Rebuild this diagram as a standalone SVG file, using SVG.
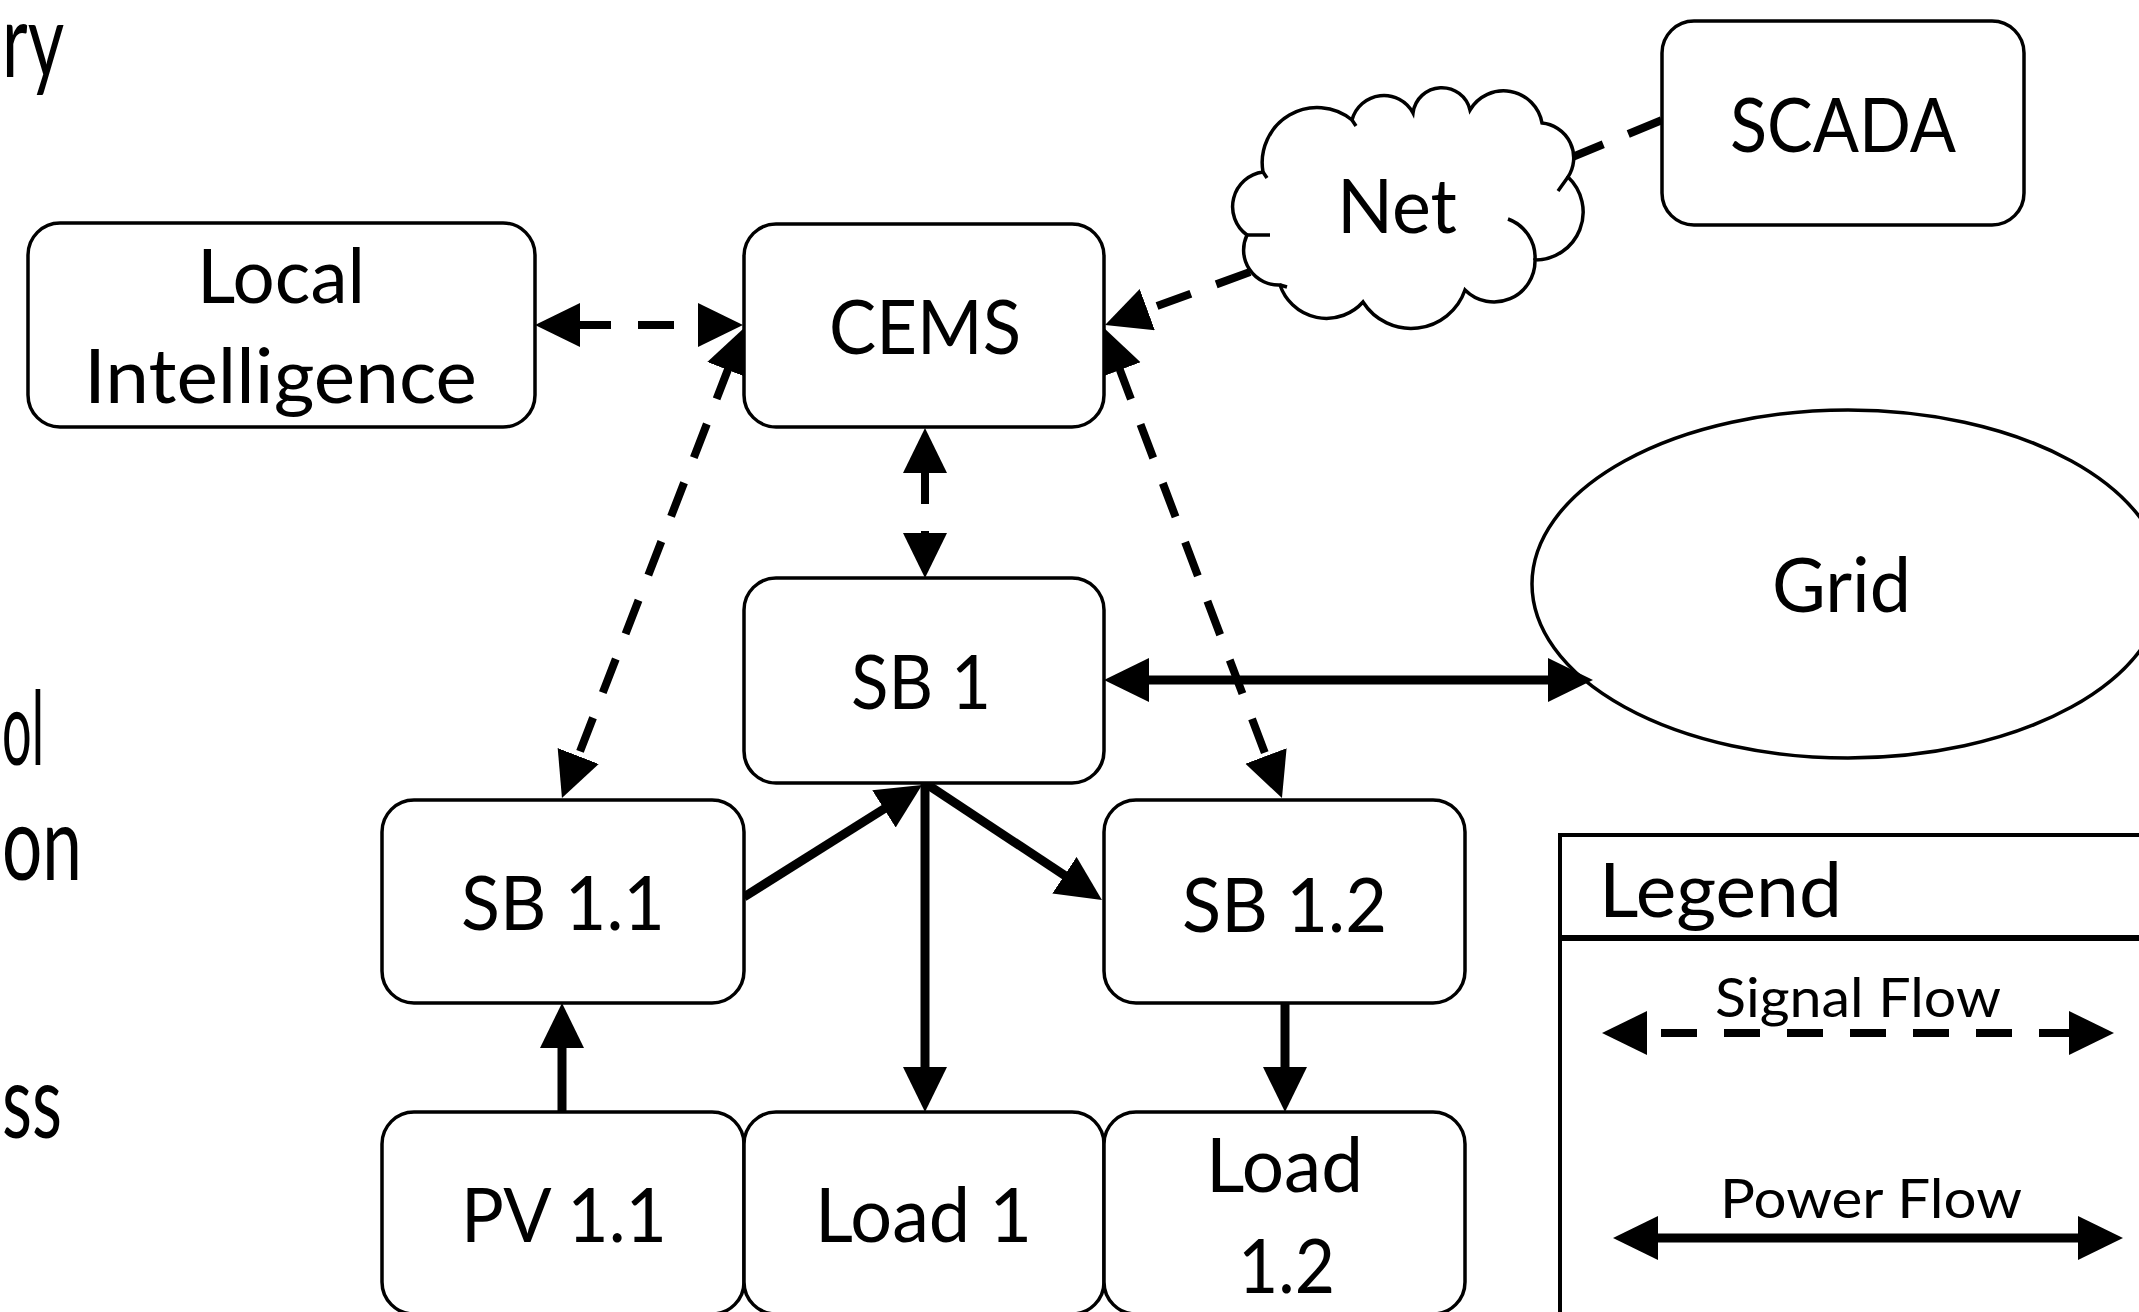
<svg xmlns="http://www.w3.org/2000/svg" width="2139" height="1312" viewBox="0 0 2139 1312">
<style>
.box{fill:#fff;stroke:#000;stroke-width:3.5}
.t{font-family:Lato,"Open Sans","Liberation Sans",sans-serif;font-size:76px;fill:#000}
.s{font-family:Lato,"Open Sans","Liberation Sans",sans-serif;font-size:54px;fill:#000}
.side{font-family:Lato,"Open Sans","Liberation Sans",sans-serif;font-size:102px;fill:#000}
.sig{fill:none;stroke:#000;stroke-width:8;stroke-dasharray:36 27}
.pow{fill:none;stroke:#000;stroke-width:9}
.two{marker-start:url(#ah);marker-end:url(#ah)}
.one{marker-end:url(#ah)}
</style>
<defs>
<marker id="ah" markerUnits="userSpaceOnUse" viewBox="0 0 46 46" markerWidth="46" markerHeight="46" refX="5" refY="22" orient="auto-start-reverse">
<path d="M0,0 L45,22 L0,44 z" fill="#000"/>
</marker>
</defs>
<rect width="2139" height="1312" fill="#fff"/>

<g id="side-text">
<text class="side" x="2" y="77" textLength="62" lengthAdjust="spacingAndGlyphs">ry</text>
<text class="side" x="2" y="765" textLength="42" lengthAdjust="spacingAndGlyphs">ol</text>
<text class="side" x="2" y="880" textLength="80" lengthAdjust="spacingAndGlyphs">on</text>
<text class="side" x="2" y="1138" textLength="60" lengthAdjust="spacingAndGlyphs">ss</text>
</g>

<g id="grid">
<ellipse cx="1848" cy="584" rx="316" ry="174" fill="#fff" stroke="#000" stroke-width="3.5"/>
<text class="t" x="1772" y="612" textLength="139" lengthAdjust="spacingAndGlyphs">Grid</text>
</g>

<g id="legend">
<rect x="1560" y="835" width="700" height="600" fill="#fff" stroke="#000" stroke-width="4"/>
<line x1="1560" y1="938" x2="2139" y2="938" stroke="#000" stroke-width="6"/>
<text class="t" x="1599" y="917" textLength="243" lengthAdjust="spacingAndGlyphs">Legend</text>
<text class="s" x="1715" y="1017" textLength="286" lengthAdjust="spacingAndGlyphs">Signal Flow</text>
<text class="s" x="1720" y="1218" textLength="302" lengthAdjust="spacingAndGlyphs">Power Flow</text>
<path class="sig two" d="M1642,1033 H2074" stroke-dashoffset="44"/>
<path class="pow two" d="M1653,1238 H2083"/>
</g>

<g id="connectors">
<path class="sig two" d="M575,325 H703"/>
<path class="sig two" d="M729.6,365.3 L576.4,760.7"/>
<path class="sig two" d="M1118.2,365.4 L1267.8,760.6"/>
<path class="sig two" d="M925,468 V538"/>
<path class="sig one" d="M1250,272 L1142.6,311.3"/>
<path class="sig" d="M1570,158 L1662,120"/>
<path class="pow two" d="M1144,680 H1553"/>
<path class="pow one" d="M744,897 L888.2,806.3"/>
<path class="pow one" d="M925,783 L1068.6,878"/>
<path class="pow one" d="M925,783 V1072"/>
<path class="pow one" d="M562,1112 V1043"/>
<path class="pow one" d="M1285,1003 V1072"/>
</g>

<g id="local-intelligence">
<rect class="box" x="28" y="223" width="507" height="204" rx="32" ry="32"/>
<text class="t" x="197" y="303" textLength="168" lengthAdjust="spacingAndGlyphs">Local</text>
<text class="t" x="84" y="403" textLength="393" lengthAdjust="spacingAndGlyphs">Intelligence</text>
</g>

<g id="cems">
<rect class="box" x="744" y="224" width="360" height="203" rx="32" ry="32"/>
<text class="t" x="829" y="354" textLength="192" lengthAdjust="spacingAndGlyphs">CEMS</text>
</g>

<g id="net">
<path fill="#fff" stroke="#000" stroke-width="3.5" d="M1263,172 A35,35 0 0,0 1247,235 A35,35 0 0,0 1280,285 A49,49 0 0,0 1363,302 A57,57 0 0,0 1465,290 A41,41 0 0,0 1535,260 A48,48 0 0,0 1568,177 A35,35 0 0,0 1542,123 A39,39 0 0,0 1470,110 A29,29 0 0,0 1413,113 A33,33 0 0,0 1352,120 A55,55 0 0,0 1263,172 Z"/>
<path fill="none" stroke="#000" stroke-width="3.5" d="M1508,219 A41,41 0 0,1 1535,260 M1247,235 L1270,235 M1568,177 L1558,191 M1352,120 L1356,126 M1263,172 L1267,178 M1280,285 L1287,287"/>
<text class="t" x="1337" y="233" textLength="120" lengthAdjust="spacingAndGlyphs">Net</text>
</g>

<g id="scada">
<rect class="box" x="1662" y="21" width="362" height="204" rx="32" ry="32"/>
<text class="t" x="1730" y="152" textLength="226" lengthAdjust="spacingAndGlyphs">SCADA</text>
</g>

<g id="sb1">
<rect class="box" x="744" y="578" width="360" height="205" rx="32" ry="32"/>
<text class="t" x="851" y="709" textLength="140" lengthAdjust="spacingAndGlyphs">SB 1</text>
</g>

<g id="sb1-1">
<rect class="box" x="382" y="800" width="362" height="203" rx="32" ry="32"/>
<text class="t" x="461" y="930" textLength="204" lengthAdjust="spacingAndGlyphs">SB 1.1</text>
</g>

<g id="sb1-2">
<rect class="box" x="1104" y="800" width="361" height="203" rx="32" ry="32"/>
<text class="t" x="1182" y="932" textLength="205" lengthAdjust="spacingAndGlyphs">SB 1.2</text>
</g>

<g id="pv1-1">
<rect class="box" x="382" y="1112" width="362" height="202" rx="32" ry="32"/>
<text class="t" x="461" y="1242" textLength="206" lengthAdjust="spacingAndGlyphs">PV 1.1</text>
</g>

<g id="load1">
<rect class="box" x="744" y="1112" width="360" height="202" rx="32" ry="32"/>
<text class="t" x="815" y="1242" textLength="217" lengthAdjust="spacingAndGlyphs">Load 1</text>
</g>

<g id="load1-2">
<rect class="box" x="1104" y="1112" width="361" height="202" rx="32" ry="32"/>
<text class="t" x="1206" y="1192" textLength="157" lengthAdjust="spacingAndGlyphs">Load</text>
<text class="t" x="1238" y="1293" textLength="97" lengthAdjust="spacingAndGlyphs">1.2</text>
</g>
</svg>
